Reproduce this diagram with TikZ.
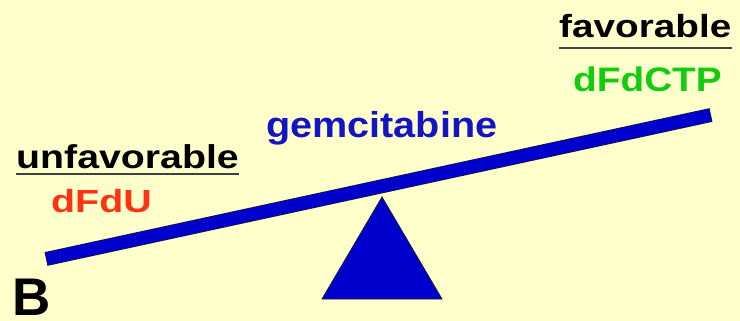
\documentclass[tikz,border=0pt]{standalone}
\usepackage{fontspec}
\usepackage{graphicx}
\usetikzlibrary{calc}
\setmainfont{Liberation Sans}
\definecolor{bg}{HTML}{FFFFCC}
\definecolor{barblue}{HTML}{0000CC}
\definecolor{txtblue}{HTML}{1414C4}
\definecolor{txtred}{HTML}{FF3311}
\definecolor{txtgreen}{HTML}{11CC11}
\definecolor{outl}{HTML}{1A1A33}
\tikzset{
  lbl/.style={inner sep=0pt, anchor=base west, font=\bfseries},
  uline/.style={line width=2pt, color=black!75},
}
\newcommand{\fs}[1]{\fontsize{#1}{#1}\selectfont}
\begin{document}
\begin{tikzpicture}[x=1pt,y=-1pt]
\fill[bg] (0,0) rectangle (740,321);
\useasboundingbox (0,0) rectangle (740,321);
% beam
\coordinate (bl) at (46,259);
\coordinate (br) at (711,115);
\draw[line width=14pt, outl] (bl) -- (br);
\draw[line width=12.5pt, barblue] ($(bl)!0.6pt!(br)$) -- ($(br)!0.6pt!(bl)$);
% fulcrum
\coordinate (apex) at (382,197);
\coordinate (b1) at (322,299);
\coordinate (b2) at (442,299);
\filldraw[fill=barblue, draw=outl, line width=0.8pt, line join=miter] (apex) -- (b1) -- (b2) -- cycle;
% labels
\coordinate (uy1) at (0,174);
\coordinate (uy2) at (0,48);
\node[lbl, text=black] (unf) at (16,168) {\fs{33}\scalebox{1.19}[1]{unfavorable}};
\draw[uline] (unf.base west |- uy1) -- (unf.base east |- uy1);
\node[lbl, text=txtred] (dfdu) at (51,212) {\fs{32}\scalebox{1.23}[1]{dFdU}};
\node[lbl, text=black] (fav) at (559,38) {\fs{32}\scalebox{1.21}[1]{favorable}};
\draw[uline] (fav.base west |- uy2) -- (fav.base east |- uy2);
\node[lbl, text=txtgreen] (dfdctp) at (573,92) {\fs{34}\scalebox{1.14}[1]{dFdCTP}};
\node[lbl, text=txtblue] (gem) at (266,138) {\fs{36}\scalebox{1.1}[1]{gemcitabine}};
\node[lbl, text=black, text depth=0pt, text height=38pt] (B) at (12,315.5) {\fs{53}B};
\end{tikzpicture}
\end{document}
